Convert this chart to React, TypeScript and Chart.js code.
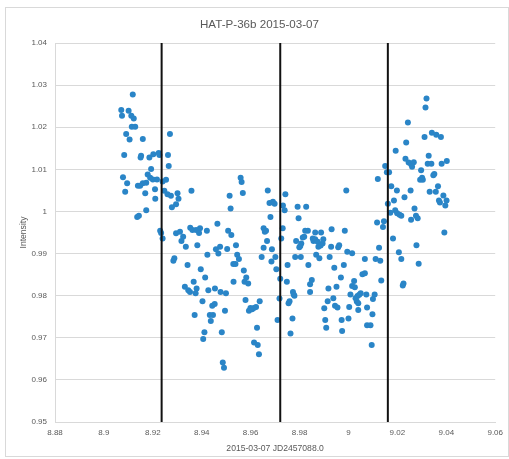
import React, { useEffect, useRef } from "react";
import { Chart, registerables } from "chart.js";

Chart.register(...registerables);

const CHART_TITLE = "HAT-P-36b 2015-03-07";
const X_TITLE = "2015-03-07 JD2457088.0";
const Y_TITLE = "Intensity";

const X_MIN = 8.88;
const X_MAX = 9.06;
const X_STEP = 0.02;
const Y_MIN = 0.95;
const Y_MAX = 1.04;
const Y_STEP = 0.01;

// vertical markers (ingress / mid-transit / egress)
const transitLines = [8.9236, 8.9721, 9.0161];

const timeValues = [
  8.9118, 8.9071, 8.9074, 8.9101, 8.9112, 8.9122, 8.9114, 8.9128, 8.9091, 8.9105,
  8.9159, 8.927, 8.9083, 8.9152, 8.915, 8.9186, 8.9202, 8.9224, 8.9227, 8.9262,
  8.9265, 8.9193, 8.9078, 8.9095, 8.9087, 8.9179, 8.9189, 8.92, 8.9217, 8.9159,
  8.9173, 8.9139, 8.9148, 8.9209, 8.9169, 8.921, 8.924, 8.9254, 8.9247, 8.926,
  8.9274, 8.9301, 8.9305, 8.9295, 8.9278, 8.9358, 8.9173, 8.9136, 8.9143, 8.923,
  8.9234, 8.924, 8.9295, 8.9311, 8.9324, 8.9317, 8.9335, 8.9353, 8.9362, 8.9288,
  8.9284, 8.9342, 8.9331, 8.9345, 8.9352, 8.9377, 8.9382, 8.9367, 8.9379, 8.9375,
  8.9371,
  8.9393, 8.9389, 8.9421, 8.9464, 8.9508, 8.9521, 8.9458, 8.9475, 8.9468, 8.9504,
  8.954, 8.9423, 8.9545, 8.9552, 8.9529, 8.9538, 8.9396, 8.9414, 8.9427, 8.9454,
  8.9477, 8.9499, 8.953, 8.9572, 8.9582, 8.9575, 8.959, 8.9403, 8.9443, 8.9453,
  8.9433, 8.9446, 8.9437, 8.9495, 8.9579, 8.9593, 8.9599, 8.9606, 8.9613, 8.9622,
  8.9637, 8.9411, 8.9406, 8.9482, 8.9626, 8.9614, 8.9629, 8.9634, 8.9486, 8.9491,
  8.9653, 8.9658, 8.9663, 8.9667, 8.9653, 8.9687, 8.9645, 8.9701, 8.9685, 8.9705,
  8.9721, 8.9718, 8.971, 8.9559, 8.9563, 8.9568, 8.9514, 8.9518, 8.967, 8.9677,
  8.9691, 8.9698, 8.9681,
  8.9742, 8.9732, 8.9739, 8.9792, 8.9827, 8.9796, 8.9991, 8.9731, 8.9725, 8.9786,
  8.9813, 8.9819, 8.9807, 8.9803, 8.9799, 8.9823, 8.9834, 8.9864, 8.9888, 8.9854,
  8.9857, 8.9864, 8.9874, 8.9897, 8.9894, 8.9886, 8.9877, 8.9931, 8.9985, 8.9929,
  8.9962, 8.9958, 8.9995, 9.0015, 8.9782, 8.9805, 8.9868, 8.9881, 8.9923, 8.9751,
  8.9836, 8.9942, 8.9981, 9.0067, 8.9748, 8.985, 8.9843, 8.9969, 9.0057, 9.0067,
  9.0023, 9.0015, 9.0026, 8.9843, 8.9773, 8.9779, 8.9776, 8.9918, 8.9951, 9.0008,
  9.0029, 9.0037, 9.0044, 9.0034, 9.004, 9.005, 9.0073, 8.9759, 8.9755, 8.9938,
  8.9915, 8.9945, 8.9955, 8.9901, 9.0003, 9.004, 9.0076, 8.9771, 8.9905, 8.9972,
  9.0, 9.0076, 8.9909, 8.9763, 8.9974,
  9.0319, 9.0315, 9.0243, 9.0311, 9.0341, 9.0359, 9.0378, 9.0236, 9.0193, 9.0233,
  9.0246, 9.0256, 9.0267, 9.026, 9.0328, 9.0324, 9.0339, 9.0381, 9.0402, 9.015,
  9.0157, 9.0166, 9.012, 9.0297, 9.0293, 9.0304, 9.0301, 9.0351, 9.0347, 9.0175,
  9.0198, 9.0254, 9.0332, 9.0357, 9.0366, 9.0229, 9.0186, 9.0161, 9.0388, 9.0401,
  9.037, 9.0374, 9.0396, 9.027, 9.0191, 9.0199, 9.0209, 9.0216, 9.0171, 9.0276,
  9.0283, 9.0256, 9.0145, 9.0117, 9.0141, 9.0392, 9.0182, 9.0125, 9.0278, 9.0206,
  9.0216, 9.0287, 9.0111, 9.013, 9.0134, 9.0225, 9.0222, 9.0107, 9.01, 9.0098,
  9.009, 9.0095,
];

const intensityValues = [
  1.0278, 1.0241, 1.0227, 1.0239, 1.0227, 1.0221, 1.0201, 1.0201, 1.0184, 1.0171,
  1.0172, 1.0184, 1.0134, 1.0132, 1.0128, 1.0128, 1.0136, 1.0139, 1.0134, 1.0134,
  1.0108, 1.0101, 1.0081, 1.0067, 1.0047, 1.0088, 1.008, 1.0076, 1.0076, 1.0067,
  1.0068, 1.0061, 1.0061, 1.0053, 1.0043, 1.003, 1.0071, 1.0075, 1.0049, 1.0041,
  1.0037, 1.0043, 1.003, 1.0017, 1.001, 1.0049, 1.0003, 0.9987, 0.999, 0.9954,
  0.9949, 0.9936, 0.9948, 0.9952, 0.994, 0.993, 0.9916, 0.9961, 0.9956, 0.9889,
  0.9883, 0.9873, 0.9821, 0.9813, 0.9809, 0.9956, 0.992, 0.9833, 0.9817, 0.9806,
  0.9754,
  0.996, 0.9949, 0.9954, 0.9971, 0.9954, 0.9944, 0.991, 0.9916, 0.99, 0.9911,
  0.992, 0.9897, 0.9897, 0.9887, 0.9875, 0.9875, 0.9863, 0.9843, 0.9813, 0.9817,
  0.9809, 0.9806, 0.9833, 0.986, 0.9843, 0.9833, 0.9829, 0.9787, 0.9776, 0.978,
  0.9754, 0.9754, 0.974, 0.9764, 0.979, 0.9764, 0.9771, 0.9768, 0.9771, 0.9773,
  0.9787, 0.9713, 0.9697, 0.9713, 0.9724, 0.9689, 0.9683, 0.9661, 0.9641, 0.9629,
  0.996, 0.9952, 0.9954, 0.993, 0.9914, 0.991, 0.9892, 0.9892, 0.9881, 0.9863,
  0.984, 0.9793, 0.9742, 1.008, 1.007, 1.0044, 1.0037, 1.0007, 1.005, 1.002,
  1.0023, 1.0018, 0.9987,
  1.0041, 1.0014, 1.0003, 1.0011, 1.0011, 0.9984, 1.005, 0.996, 0.9936, 0.993,
  0.9938, 0.994, 0.9924, 0.9918, 0.9915, 0.9954, 0.9954, 0.995, 0.995, 0.9936,
  0.993, 0.9934, 0.9928, 0.9934, 0.9924, 0.9919, 0.9916, 0.9958, 0.9954, 0.9916,
  0.992, 0.9915, 0.9904, 0.9901, 0.9892, 0.9892, 0.9897, 0.9889, 0.9892, 0.9873,
  0.9873, 0.9866, 0.9873, 0.9887, 0.9833, 0.9837, 0.9827, 0.9843, 0.9851, 0.9853,
  0.9835, 0.9823, 0.982, 0.9809, 0.9809, 0.98, 0.9803, 0.9817, 0.9821, 0.9803,
  0.9794, 0.9799, 0.9802, 0.9786, 0.9782, 0.9806, 0.9803, 0.9787, 0.9782, 0.9794,
  0.9787, 0.9776, 0.9772, 0.977, 0.9773, 0.9766, 0.9772, 0.9746, 0.9742, 0.9742,
  0.9746, 0.973, 0.9724, 0.971, 0.9716,
  1.0268, 1.0247, 1.0211, 1.0177, 1.0187, 1.0182, 1.0177, 1.0164, 1.0144, 1.0125,
  1.0116, 1.0112, 1.0117, 1.0106, 1.0132, 1.0113, 1.0113, 1.0113, 1.012, 1.0108,
  1.0093, 1.0093, 1.0077, 1.0098, 1.0075, 1.0075, 1.008, 1.0089, 1.0086, 1.006,
  1.005, 1.005, 1.0047, 1.0047, 1.006, 1.0034, 1.0026, 1.0018, 1.0038, 1.0026,
  1.0026, 1.0021, 1.0014, 1.0007, 1.0003, 0.9996, 0.9992, 0.999, 0.9997, 0.999,
  0.9984, 0.998, 0.9977, 0.9974, 0.9963, 0.995, 0.9936, 0.9914, 0.992, 0.9903,
  0.9887, 0.9876, 0.9887, 0.9883, 0.9836, 0.9829, 0.9824, 0.9803, 0.9792, 0.9756,
  0.973, 0.9683,
];

const FONT = "'Liberation Sans', Arial, sans-serif";
const TEXT_COLOR = "#595959";
const GRID_COLOR = "#d9d9d9";
const POINT_COLOR = "#2a85c7";

const fmt = (v: number) => String(Number(Number(v).toFixed(2)));

const framePlugin = {
  id: "frame",
  beforeDraw(chart: any) {
    const ctx = chart.ctx;
    ctx.save();
    ctx.fillStyle = "#ffffff";
    ctx.fillRect(0, 0, chart.width, chart.height);
    ctx.strokeStyle = GRID_COLOR;
    ctx.lineWidth = 1;
    ctx.strokeRect(5.5, 7.5, 503, 449);
    ctx.restore();
  },
};

const titlePlugin = {
  id: "customTitle",
  afterDraw(chart: any) {
    const ctx = chart.ctx;
    ctx.save();
    ctx.fillStyle = TEXT_COLOR;
    ctx.font = `11.6px ${FONT}`;
    ctx.textAlign = "center";
    ctx.textBaseline = "middle";
    ctx.fillText(CHART_TITLE, 259.5, 25);
    ctx.restore();
  },
};

export default function App() {
  const canvasRef = useRef<HTMLCanvasElement | null>(null);

  useEffect(() => {
    if (!canvasRef.current) return;
    const points = timeValues.map((x, i) => ({ x, y: intensityValues[i] }));
    const lineSets = transitLines.map((t) => ({
      type: "line" as const,
      data: [
        { x: t, y: Y_MIN },
        { x: t, y: Y_MAX },
      ],
      borderColor: "#111111",
      borderWidth: 2,
      pointRadius: 0,
      showLine: true,
      fill: false,
    }));

    const chart = new Chart(canvasRef.current, {
      type: "scatter",
      data: {
        datasets: [
          ...lineSets,
          {
            type: "scatter" as const,
            data: points,
            backgroundColor: POINT_COLOR,
            borderWidth: 0,
            pointRadius: 3,
            pointHoverRadius: 3,
          },
        ] as any,
      },
      plugins: [framePlugin, titlePlugin],
      options: {
        animation: false,
        responsive: false,
        maintainAspectRatio: false,
        layout: { padding: { left: 0, right: 11, top: 43, bottom: 0 } },
        plugins: {
          legend: { display: false },
          tooltip: { enabled: false },
          title: { display: false },
        },
        scales: {
          x: {
            type: "linear",
            min: X_MIN,
            max: X_MAX,
            ticks: {
              stepSize: X_STEP,
              color: TEXT_COLOR,
              font: { family: FONT, size: 8 },
              padding: 6,
              callback: (v: any) => fmt(v),
              maxRotation: 0,
            },
            grid: { display: false, drawTicks: false },
            border: { display: true, color: GRID_COLOR },
            title: {
              display: true,
              text: X_TITLE,
              color: TEXT_COLOR,
              font: { family: FONT, size: 8.6 },
              padding: { top: 0, bottom: 5 },
            },
            afterFit: (s: any) => {
              s.height = 37;
            },
          },
          y: {
            type: "linear",
            min: Y_MIN,
            max: Y_MAX,
            ticks: {
              stepSize: Y_STEP,
              color: TEXT_COLOR,
              font: { family: FONT, size: 8 },
              padding: 8,
              callback: (v: any) => fmt(v),
            },
            grid: { color: GRID_COLOR, drawTicks: false },
            border: { display: true, color: GRID_COLOR },
            title: {
              display: true,
              text: Y_TITLE,
              color: TEXT_COLOR,
              font: { family: FONT, size: 8.6 },
              padding: { top: 18.5, bottom: 0 },
            },
            afterFit: (s: any) => {
              s.width = 55;
            },
          },
        },
      } as any,
    });
    return () => chart.destroy();
  }, []);

  return (
    <div style={{ position: "fixed", left: 0, top: 0, width: 509, height: 459 }}>
      <canvas ref={canvasRef} width={509} height={459} style={{ width: 509, height: 459 }} />
    </div>
  );
}
